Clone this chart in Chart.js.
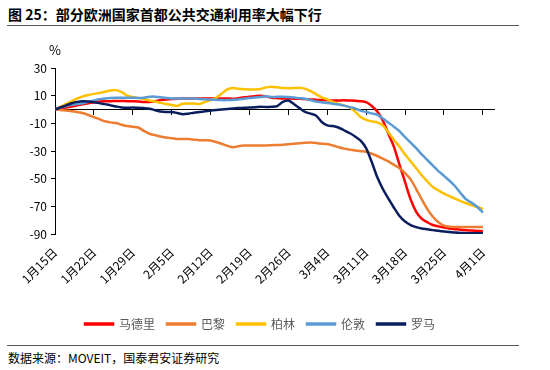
<!DOCTYPE html>
<html>
<head>
<meta charset="utf-8">
<script src="https://cdn.jsdelivr.net/npm/chart.js@4.4.1/dist/chart.umd.min.js"></script>
<style>
  body { margin: 0; width: 550px; height: 370px; background: #fff; position: relative; overflow: hidden;
         font-family: "Noto Sans CJK SC", sans-serif; }
  #title { position: absolute; left: 8px; top: 4px; font-size: 14px; font-weight: bold; color: #000; }
  .rule { position: absolute; left: 7px; width: 512px; height: 0; border-top: 1.5px solid #595959; }
  #pct { position: absolute; left: 49px; top: 40px; font-size: 13px; color: #000; }
  #source { position: absolute; left: 8px; top: 349px; font-size: 12px; color: #000; }
  #chart { position: absolute; left: 0; top: 30px; }
</style>
</head>
<body>
<div id="title">图 25：部分欧洲国家首都公共交通利用率大幅下行</div>
<div class="rule" style="top:25px"></div>
<canvas id="chart" width="550" height="310"></canvas>
<div id="pct">%</div>
<div class="rule" style="top:345px"></div>
<div id="source">数据来源：MOVEIT，国泰君安证券研究</div>
<script>
// 1月15日 = day 0, one value per day up to 4月1日 (day 77)
const tickLabels = ["1月15日", "1月22日", "1月29日", "2月5日", "2月12日", "2月19日",
  "2月26日", "3月4日", "3月11日", "3月18日", "3月25日", "4月1日"];

const madrid = [0, 0.8, 1.5, 2.2, 3, 3.8, 4.5, 5.2, 5.8, 6, 6, 6.2, 6.2, 6, 6, 5.8, 5.5, 5.4, 6, 6.8,
  7.3, 7.5, 7.8, 8, 8, 8, 8, 8, 8, 8, 8, 8, 7.8, 8.2, 8.8, 9.2, 9.6, 10, 9.5, 8.4,
  8.2, 8, 8, 7.8, 7.8, 7.5, 7.3, 7, 6.8, 6.6, 6.5, 6.5, 6.6, 6.5, 6.4, 6, 5.3, 2.5, -1.5, -8,
  -17.5, -27, -40, -52.5, -65, -74, -79, -81.5, -83.5, -84.5, -85.3, -86, -86.5, -87, -87.3, -87.5, -87.8, -88];

const paris = [0, -0.3, -0.8, -1.2, -1.8, -2.5, -4, -5.5, -7, -8.5, -9.3, -9.8, -11, -12, -12.5, -13, -15.5, -17.5, -18.5, -19.5,
  -20.2, -20.8, -21.3, -21.4, -21.4, -21.8, -22.2, -22.3, -22.4, -23.5, -24.8, -26.2, -27.3, -26.5, -26, -26, -26, -26, -26, -25.8,
  -25.7, -25.5, -25.2, -24.8, -24.4, -24, -23.8, -24.3, -24.7, -25, -26, -27.2, -28.3, -29, -29.6, -30.1, -30.5, -32, -33.6, -35.5,
  -37.5, -40, -42.5, -46, -50.5, -57.5, -65, -72, -77.5, -81.5, -84, -84.8, -85, -85, -85, -85, -85, -85];

const berlin = [0, 2, 4, 6, 8, 9.5, 10.5, 11.3, 12, 12.8, 13.8, 14, 12.5, 10, 9, 8.3, 7.5, 6.5, 5.8, 4.8,
  4, 3.2, 2.6, 4.2, 4.4, 4.3, 4, 5.5, 6.8, 8.5, 11.5, 14.5, 15.5, 15, 14.6, 14.5, 14.5, 14.8, 16, 16.4,
  16, 15.6, 15.3, 15.5, 15.8, 15, 13.2, 11, 8.8, 7.3, 5.5, 4, 3, 1.5, -1.5, -5.5, -7.5, -8.6, -9.3, -11.5,
  -16.5, -22, -27, -32.5, -37.5, -42.5, -47.5, -52, -56, -58.5, -60.8, -62.7, -64.5, -66.2, -67.8, -69.2, -70.5, -72];

const london = [0, 1.5, 2.5, 3.5, 4, 4.5, 5.5, 6.5, 7.5, 8, 8.3, 8.5, 8.5, 8.5, 8.5, 8.3, 8.5, 9.2, 9.3, 8.8,
  8.3, 8, 8, 8, 8, 8, 7.6, 7.4, 7.2, 7, 6.8, 6.8, 7, 7.2, 7.8, 8.3, 8.6, 9, 9.5, 9,
  9.2, 9.3, 9, 8.6, 8.2, 7.8, 6.8, 5.8, 5.2, 4.7, 4.2, 3.6, 2.8, 1.8, 0.8, -0.8, -1.8, -2.8, -3.8, -6.5,
  -9.5, -12.5, -15.7, -20, -24, -28, -32.5, -36.5, -40.5, -44.5, -48, -51.5, -55.5, -60.5, -65, -67.5, -70.5, -74.5];

const rome = [0, 1.5, 3, 4.5, 5.5, 6, 5.8, 5.3, 4.6, 3.9, 3, 2.2, 1.5, 1.3, 1.4, 1.2, 1, 0.6, -0.5, -1.5,
  -1.8, -1.8, -2.5, -3.4, -3, -2.3, -1.8, -1.3, -0.8, -0.4, 0, 0.4, 0.7, 1, 1.2, 1.4, 1.6, 2, 1.8, 2,
  2.5, 5.5, 6.5, 4, 1, -1.8, -3, -4.5, -9, -11.5, -12, -13, -15, -17, -19.5, -22.5, -28, -38, -49, -57.5,
  -64.5, -71, -77, -81, -83.5, -85, -86, -86.6, -87.2, -87.7, -88.2, -88.6, -89, -89.2, -89.4, -89.5, -89.5, -89.5];

function pts(arr) {
  return arr.map((v, i) => ({ x: i, y: v }));
}

function line(label, arr, color, order) {
  return {
    label: label,
    data: pts(arr),
    borderColor: color,
    backgroundColor: color,
    borderWidth: 2.5,
    pointRadius: 0,
    tension: 0.25,
    order: order
  };
}

Chart.defaults.font.family = "'Noto Sans CJK SC', sans-serif";

new Chart(document.getElementById("chart"), {
  type: 'line',
  data: {
    datasets: [
      line('马德里', madrid, '#FF0000', 5),
      line('巴黎', paris, '#ED7D31', 4),
      line('柏林', berlin, '#FFC000', 3),
      line('伦敦', london, '#5B9BD5', 2),
      line('罗马', rome, '#0A1E5E', 1)
    ]
  },
  options: {
    responsive: false,
    animation: false,
    layout: { padding: { top: 38, right: 30, left: 0, bottom: 0 } },
    plugins: {
      tooltip: { enabled: false },
      legend: {
        position: 'bottom',
        labels: {
          boxWidth: 28,
          boxHeight: 1,
          color: '#595959',
          font: { size: 12 },
          padding: 12,
          sort: (a, b) => a.datasetIndex - b.datasetIndex
        }
      }
    },
    scales: {
      x: {
        type: 'linear',
        min: 0,
        max: 79,
        position: { y: 0 },
        border: { color: '#000', width: 1 },
        grid: { drawOnChartArea: false, drawTicks: true, tickLength: 5, color: '#000' },
        ticks: { display: false, stepSize: 7, includeBounds: false, autoSkip: false }
      },
      x2: {
        type: 'linear',
        min: 0,
        max: 79,
        position: 'bottom',
        border: { display: false },
        grid: { display: false },
        ticks: {
          stepSize: 7,
          includeBounds: false,
          autoSkip: false,
          maxRotation: 45,
          minRotation: 45,
          color: '#000',
          font: { size: 12 },
          callback: v => tickLabels[v / 7]
        },
        afterFit: s => { s.height = 72; }
      },
      y: {
        min: -90,
        max: 30,
        border: { color: '#000', width: 1 },
        grid: { drawOnChartArea: false, drawTicks: true, tickLength: 4, color: '#000' },
        ticks: { stepSize: 20, color: '#000', font: { size: 12 }, padding: 4 },
        afterFit: s => { s.width = 55; }
      },
      yRight: {
        type: 'linear',
        position: 'right',
        min: -90,
        max: 30,
        border: { display: false },
        grid: { display: false },
        ticks: { display: false },
        afterFit: s => { s.width = 26; }
      }
    }
  }
});
</script>
</body>
</html>
